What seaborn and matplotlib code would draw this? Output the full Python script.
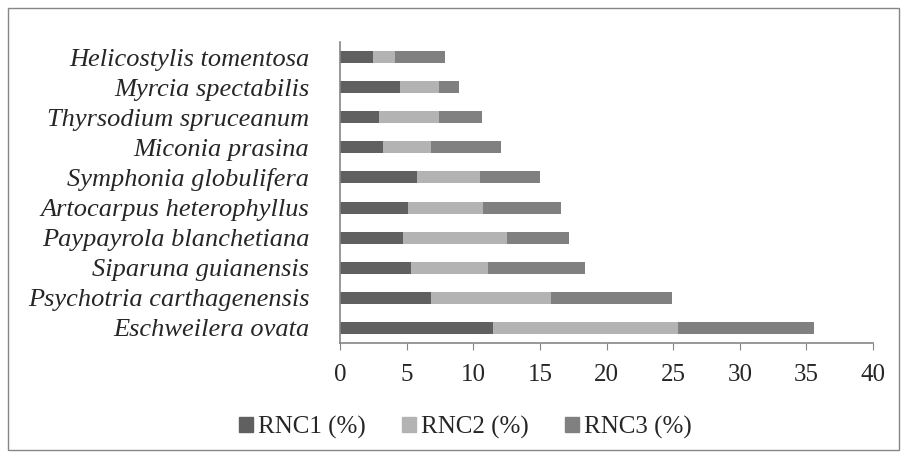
import matplotlib
matplotlib.use("Agg")
import matplotlib.pyplot as plt
import matplotlib.patches as mpatches
import seaborn as sns
import numpy as np
import pandas as pd

# species listed top to bottom as in the chart
species = ['Helicostylis tomentosa', 'Myrcia spectabilis', 'Thyrsodium spruceanum',
           'Miconia prasina', 'Symphonia globulifera', 'Artocarpus heterophyllus',
           'Paypayrola blanchetiana', 'Siparuna guianensis', 'Psychotria carthagenensis',
           'Eschweilera ovata']
rnc1 = [2.5, 4.5, 2.9, 3.2, 5.8, 5.1, 4.7, 5.35, 6.8, 11.45]
rnc2 = [1.65, 2.9, 4.5, 3.6, 4.7, 5.6, 7.85, 5.75, 9.05, 13.95]
rnc3 = [3.7, 1.5, 3.25, 5.25, 4.5, 5.85, 4.65, 7.25, 9.1, 10.2]
series = ['RNC1 (%)', 'RNC2 (%)', 'RNC3 (%)']
colors = ['#606060', '#b3b3b3', '#808080']
xticks = [0, 5, 10, 15, 20, 25, 30, 35, 40]

df = pd.DataFrame({'species': species, 'RNC1 (%)': rnc1, 'RNC2 (%)': rnc2, 'RNC3 (%)': rnc3})
df['c1'] = df['RNC1 (%)']
df['c2'] = df['c1'] + df['RNC2 (%)']
df['c3'] = df['c2'] + df['RNC3 (%)']

sns.set_style("white")
plt.rcParams['font.family'] = ['Liberation Serif', 'DejaVu Serif']

fig = plt.figure(figsize=(9.07, 4.57), dpi=100)
ax = fig.add_axes([340 / 907, 1 - 343 / 457, 533 / 907, 301 / 457])

# stacked bars drawn as cumulative layers, widest first
for col, c in zip(['c3', 'c2', 'c1'], colors[::-1]):
    sns.barplot(data=df, x=col, y='species', order=species, color=c, width=0.4,
                saturation=1, ax=ax, edgecolor='none')

ax.set_xlim(0, 40)
ax.set_xticks(xticks)
ax.set_xlabel('')
ax.set_ylabel('')
ax.set_yticks(np.arange(len(species)))
ax.set_yticklabels(species, fontstyle='italic', fontsize=19)
ax.tick_params(axis='y', length=0, pad=22)
ax.tick_params(axis='x', labelsize=18, length=5, color='#868686', direction='out', pad=10)
ax.set_yticks(np.arange(len(species) + 1) - 0.5, minor=True)
ax.tick_params(axis='y', which='minor', length=5, color='#868686', direction='out')
ax.xaxis.set_ticks_position('bottom')
ax.set_ylim(len(species) - 0.5, -0.5)
for s in ['top', 'right']:
    ax.spines[s].set_visible(False)
for s in ['left', 'bottom']:
    ax.spines[s].set_color('#868686')
    ax.spines[s].set_linewidth(1.2)

handles = [mpatches.Patch(color=c, label=l) for c, l in zip(colors, series)]
fig.legend(handles=handles, loc='center', bbox_to_anchor=(465 / 907, 1 - 427 / 457),
           ncol=3, frameon=False, fontsize=18, handlelength=0.56, handleheight=0.56,
           handletextpad=0.2, columnspacing=1.45, borderpad=0)

fig.patches.append(mpatches.Rectangle((8 / 907, 7 / 457), 891 / 907, 442 / 457,
                                      transform=fig.transFigure, fill=False,
                                      edgecolor='#868686', linewidth=1))

fig.savefig('out.png', dpi=100)
